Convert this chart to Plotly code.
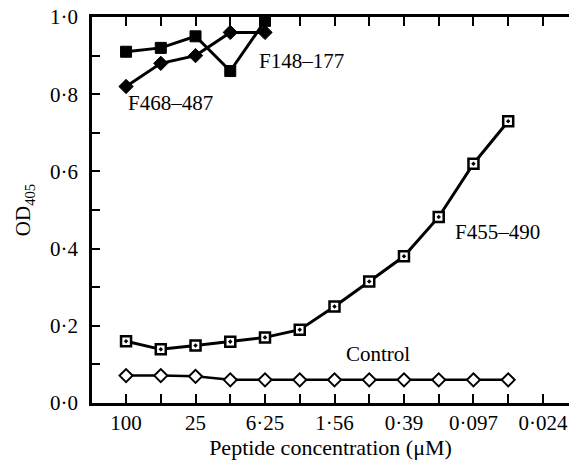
import plotly.graph_objects as go

conc_labels = ["100", "50", "25", "12·5", "6·25", "3·12", "1·56", "0·78", "0·39", "0·195", "0·097", "0·048", "0·024"]
label_positions = [0, 2, 4, 6, 8, 10, 12]

f148_177 = [0.91, 0.92, 0.95, 0.86, 0.99]
f468_487 = [0.82, 0.88, 0.90, 0.96, 0.96]
f455_490 = [0.16, 0.139, 0.149, 0.159, 0.17, 0.19, 0.25, 0.315, 0.38, 0.482, 0.62, 0.73]
control = [0.071, 0.071, 0.069, 0.06, 0.06, 0.06, 0.06, 0.06, 0.06, 0.06, 0.06, 0.06]

y_major = [0.0, 0.2, 0.4, 0.6, 0.8, 1.0]
y_labels = ["0·0", "0·2", "0·4", "0·6", "0·8", "1·0"]

FONT = "Liberation Serif"

fig = go.Figure()

def idx(n):
    return list(range(n))

fig.add_trace(go.Scatter(
    x=idx(len(control)), y=control, mode="lines+markers",
    line=dict(color="black", width=2.5),
    marker=dict(symbol="diamond", size=10, color="white", line=dict(color="black", width=2)),
))
fig.add_trace(go.Scatter(
    x=idx(len(f455_490)), y=f455_490, mode="lines+markers",
    line=dict(color="black", width=3),
    marker=dict(symbol="square-dot", size=10, color="white", line=dict(color="black", width=2.5)),
))
fig.add_trace(go.Scatter(
    x=idx(len(f468_487)), y=f468_487, mode="lines+markers",
    line=dict(color="black", width=3),
    marker=dict(symbol="diamond", size=11, color="black", line=dict(color="black", width=1)),
))
fig.add_trace(go.Scatter(
    x=idx(len(f148_177)), y=f148_177, mode="lines+markers",
    line=dict(color="black", width=3),
    marker=dict(symbol="square", size=11, color="black", line=dict(color="black", width=1)),
))

ann_font = dict(family=FONT, size=21, color="black")
annotations = [
    dict(x=5.05, y=0.885, text="F148–177"),
    dict(x=1.27, y=0.778, text="F468–487"),
    dict(x=10.68, y=0.443, text="F455–490"),
    dict(x=7.25, y=0.126, text="Control"),
]
for a in annotations:
    fig.add_annotation(x=a["x"], y=a["y"], text=a["text"], showarrow=False,
                       xref="x", yref="y", font=ann_font)

fig.update_layout(
    width=569, height=462,
    margin=dict(l=92, r=0, t=17, b=59),
    paper_bgcolor="white", plot_bgcolor="white",
    showlegend=False,
    font=dict(family=FONT, size=21, color="black"),
    xaxis=dict(
        range=[-0.98, 12.75],
        tickmode="array", tickvals=label_positions,
        ticktext=[conc_labels[i] for i in label_positions],
        ticks="inside", ticklen=9, tickwidth=2, tickcolor="black",
        minor=dict(tickmode="linear", tick0=1, dtick=2, ticks="inside", ticklen=9,
                   tickwidth=2, tickcolor="black", showgrid=False),
        showline=True, linecolor="black", linewidth=2.5, mirror="ticks",
        showgrid=False, zeroline=False,
        tickfont=dict(family=FONT, size=21),
        ticklabelstandoff=-1,
        title=dict(text="Peptide concentration (μM)", font=dict(family=FONT, size=22), standoff=2),
    ),
    yaxis=dict(
        range=[0, 1.0],
        tickmode="array", tickvals=y_major, ticktext=y_labels,
        ticks="inside", ticklen=8, tickwidth=2, tickcolor="black",
        minor=dict(tickmode="linear", tick0=0.1, dtick=0.2, ticks="inside", ticklen=8,
                   tickwidth=2, tickcolor="black", showgrid=False),
        showline=True, linecolor="black", linewidth=2.5,
        showgrid=False, zeroline=False,
        tickfont=dict(family=FONT, size=21),
        ticklabelstandoff=7,
        title=dict(text="OD<sub>405</sub>", font=dict(family=FONT, size=21), standoff=14),
    ),
)

fig.write_html("out.html", config={"displayModeBar": False},
               post_script="document.body.style.margin='0';")
